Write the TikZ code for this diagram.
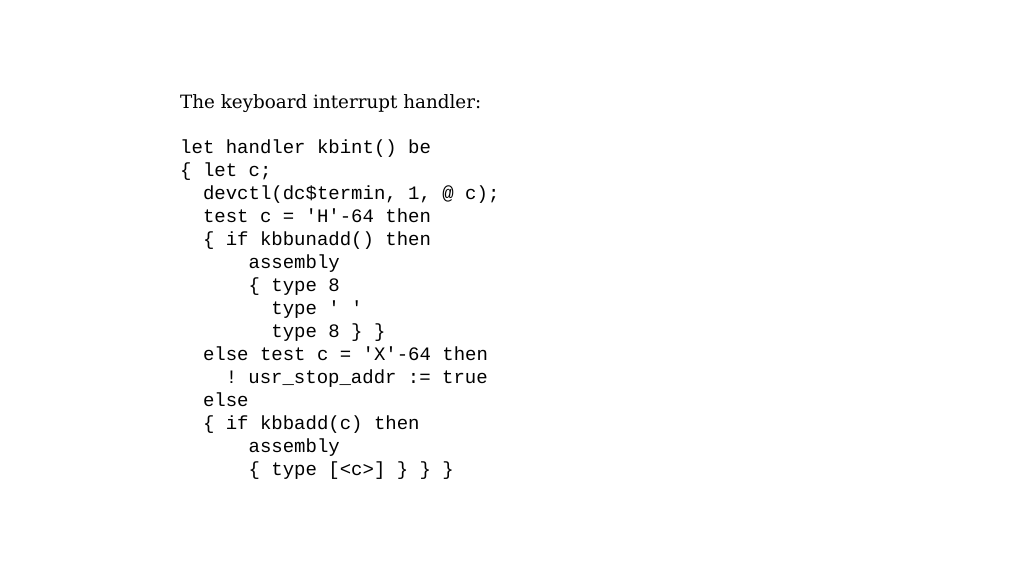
\documentclass[tikz,border=0pt]{standalone}
\usepackage{fontspec}
\setmainfont{DejaVu Serif}
\newfontfamily\code{Liberation Mono}
\begin{document}
\begin{tikzpicture}[x=1pt,y=1pt,
  ln/.style={anchor=base west,inner sep=0pt,font=\code\fontsize{19}{19}\selectfont}]
\useasboundingbox (0,0) rectangle (1024,-576);
\node[anchor=base west,inner sep=0pt,font=\fontsize{17}{20}\selectfont] (title) at (180,-108) {\resizebox{301pt}{!}{The keyboard interrupt handler:}};
\def\cw{11.4}
\foreach \i/\n/\t [count=\k] in {
 0/l1/{let handler kbint() be},
 0/l2/{\{ let c;},
 2/l3/{devctl(dc\$termin, 1, @ c);},
 2/l4/{test c = 'H'-64 then},
 2/l5/{\{ if kbbunadd() then},
 6/l6/{assembly},
 6/l7/{\{ type 8},
 8/l8/{type ' '},
 8/l9/{type 8 \} \}},
 2/l10/{else test c = 'X'-64 then},
 4/l11/{!\hspace{-4pt} usr\_stop\_addr := true},
 2/l12/{else},
 2/l13/{\{ if kbbadd(c) then},
 6/l14/{assembly},
 6/l15/{\{ type [<c>] \} \} \}}}
 \node[ln] (\n) at (180+\i*\cw,-153-23*\k+23) {\t};
\end{tikzpicture}
\end{document}
